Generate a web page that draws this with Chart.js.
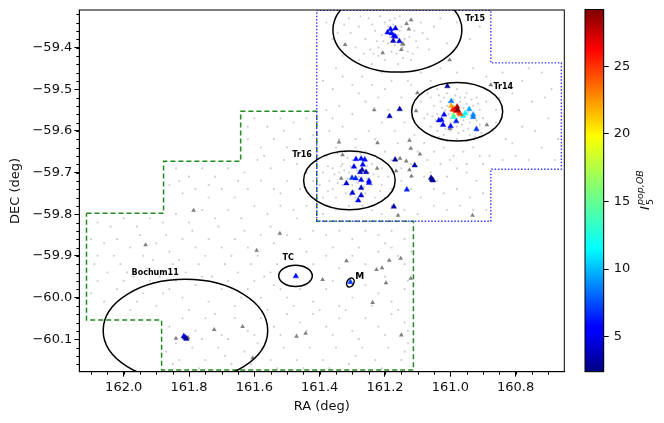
<!DOCTYPE html>
<html>
<head>
<meta charset="utf-8">
<title>OB stars</title>
<script src="https://cdn.jsdelivr.net/npm/chart.js@4/dist/chart.umd.min.js"></script>
<style>
  html, body { margin: 0; padding: 0; background: #fff; }
  #wrap { position: relative; width: 664px; height: 423px; overflow: hidden; }
  #mainChart { position: absolute; left: 0; top: 0; }
  #barChart { position: absolute; left: 560px; top: 0; }
</style>
</head>
<body>
<div id="wrap">
  <canvas id="mainChart" width="664" height="423"></canvas>
  <canvas id="barChart" width="104" height="423"></canvas>
</div>
<script>
//-------------------data--------------------
const xTicks = [162.0, 161.8, 161.6, 161.4, 161.2, 161.0, 160.8];
const yTicks = [-59.4, -59.5, -59.6, -59.7, -59.8, -59.9, -60.0, -60.1];
const barTicks = [5, 10, 15, 20, 25];

const raMin = 160.651, raMax = 162.136;
const decMin = -60.178, decMax = -59.31;
const barMin = 2.41, barMax = 29.2;

// survey footprints
const greenRa = [162.114, 161.878, 161.878, 161.642, 161.642, 161.409, 161.409, 161.113, 161.113, 161.884, 161.884, 162.114, 162.114];
const greenDec = [-59.798, -59.798, -59.673, -59.673, -59.553, -59.553, -59.817, -59.817, -60.174, -60.174, -60.054, -60.054, -59.798];
const blueRa = [161.409, 160.876, 160.876, 160.660, 160.660, 160.876, 160.876, 161.409, 161.409];
const blueDec = [-59.311, -59.311, -59.437, -59.437, -59.692, -59.692, -59.817, -59.817, -59.311];

// cluster ellipses
const clusterNames = ["Tr15", "Tr14", "Tr16", "TC", "M", "Bochum11"];
const clusterRa = [161.162, 160.979, 161.309, 161.474, 161.306, 161.811];
const clusterDec = [-59.358, -59.554, -59.719, -59.948, -59.964, -60.079];
const clusterRadRa = [0.1974, 0.1393, 0.1402, 0.0514, 0.0105, 0.2519];
const clusterRadDec = [0.101, 0.0702, 0.0704, 0.0257, 0.0115, 0.1226];
const clusterTilt = [0, 0, 0, 0, 0.5, 0];
const labelRa = [160.954, 160.868, 161.484, 161.514, 161.291, 161.976];
const labelDec = [-59.332, -59.495, -59.658, -59.904, -59.949, -59.940];

// gray triangles
const grayRa = [161.120, 161.134, 161.127, 161.322, 161.147, 161.144, 161.207, 161.150, 161.002, 160.876, 161.101, 161.233, 161.105, 160.888, 161.002, 161.341, 161.223, 161.125, 161.121, 161.093, 161.330, 161.154, 161.135, 161.224, 161.166, 161.125, 161.119, 161.334, 161.160, 160.932, 161.522, 161.933, 161.593, 161.723, 161.636, 161.840, 161.803, 161.605, 161.786, 161.318, 161.391, 161.187, 161.152, 161.226, 161.209, 161.197, 161.121, 161.238, 161.471, 161.443, 161.150];
const grayDec = [-59.334, -59.343, -59.356, -59.393, -59.392, -59.392, -59.413, -59.405, -59.430, -59.490, -59.509, -59.550, -59.552, -59.586, -59.595, -59.627, -59.629, -59.623, -59.642, -59.656, -59.658, -59.666, -59.673, -59.690, -59.696, -59.694, -59.709, -59.714, -59.803, -59.803, -59.846, -59.874, -59.887, -60.077, -60.070, -60.098, -60.096, -60.145, -59.791, -59.912, -59.957, -59.911, -59.906, -59.933, -59.929, -59.965, -59.954, -60.012, -60.093, -60.086, -60.090];

// coloured OB triangles
const obRa = [161.192, 161.183, 161.168, 161.180, 161.173, 161.168, 161.175, 161.156,
  161.009, 161.155, 161.186, 160.997, 161.019, 161.035, 161.027, 161.022, 160.982, 160.999, 160.920, 160.930, 160.930, 160.942, 160.954, 160.961, 160.990, 160.990, 160.997, 160.993, 160.969, 160.973, 160.987, 160.982, 160.979, 160.977,
  161.289, 161.273, 161.262, 161.268, 161.295, 161.270, 161.276, 161.258, 161.301, 161.290, 161.273, 161.249, 161.249, 161.318, 161.273, 161.300, 161.273, 161.282,
  161.169, 161.109, 161.059, 161.056, 161.053, 161.133, 161.173, 161.473, 161.306, 161.816, 161.812, 161.808];
const obDec = [-59.364, -59.356, -59.354, -59.366, -59.372, -59.374, -59.384, -59.385,
  -59.493, -59.548, -59.565, -59.529, -59.561, -59.575, -59.574, -59.586, -59.577, -59.589, -59.596, -59.561, -59.567, -59.548, -59.558, -59.564, -59.562, -59.567, -59.540, -59.549, -59.560, -59.557, -59.549, -59.552, -59.542, -59.550,
  -59.668, -59.667, -59.669, -59.681, -59.686, -59.694, -59.699, -59.699, -59.713, -59.714, -59.718, -59.720, -59.725, -59.726, -59.737, -59.749, -59.755, -59.767,
  -59.669, -59.683, -59.713, -59.717, -59.719, -59.741, -59.782, -59.949, -59.963, -60.093, -60.096, -60.099];
const obValue = [6, 6, 5, 6, 5.5, 5.5, 4, 4.5,
  3, 3.5, 3.5, 8.5, 6, 5.5, 5.5, 5.5, 6.5, 6, 7, 9, 8.5, 9.5, 11.5, 12, 17, 13, 22, 25, 24, 25, 26, 27, 28, 29,
  6, 6, 6, 6, 5, 3.5, 4, 3.5, 7, 6.5, 6, 5.5, 6, 4, 3.5, 4.5, 4.5, 5,
  3, 3.5, 3, 3, 3, 6.5, 3.5, 6, 7, 5, 3.5, 3];

const fieldStars = [
  // Tr15 area
  [161.31,-59.33],[161.28,-59.35],[161.25,-59.33],[161.23,-59.36],[161.26,-59.38],[161.29,-59.40],[161.22,-59.40],[161.20,-59.34],[161.19,-59.39],[161.21,-59.37],[161.17,-59.33],[161.15,-59.35],[161.16,-59.37],[161.14,-59.38],[161.18,-59.41],[161.13,-59.41],[161.11,-59.36],[161.09,-59.34],[161.07,-59.38],[161.05,-59.35],[161.03,-59.33],[161.10,-59.40],[161.12,-59.43],[161.16,-59.44],[161.20,-59.43],[161.24,-59.44],[161.28,-59.43],[161.33,-59.42],[161.36,-59.38],[161.38,-59.34],[161.35,-59.45],[161.17,-59.395],[161.185,-59.375],[161.155,-59.36],[161.19,-59.35],[161.145,-59.40],[161.22,-59.42],[160.98,-59.34],[160.94,-59.38],[160.91,-59.35],[160.99,-59.41],[161.01,-59.39],
  [161.24,-59.345],[161.215,-59.325],[161.195,-59.365],[161.175,-59.345],[161.135,-59.345],[161.125,-59.375],[161.105,-59.385],[161.085,-59.365],[161.065,-59.405],[161.245,-59.405],[161.265,-59.415],[161.305,-59.365],[161.325,-59.345],[161.345,-59.365],[161.205,-59.385],[161.165,-59.415],[161.145,-59.425],[161.115,-59.415],[161.185,-59.335],[161.275,-59.325],[161.155,-59.325],[161.225,-59.385],[161.235,-59.415],[161.175,-59.365],
  // between Tr15 and Tr14
  [161.39,-59.48],[161.36,-59.50],[161.33,-59.47],[161.30,-59.49],[161.27,-59.47],[161.24,-59.49],[161.21,-59.46],[161.18,-59.48],[161.15,-59.46],[161.12,-59.49],[161.09,-59.46],[161.06,-59.48],[161.03,-59.45],[160.98,-59.46],[160.93,-59.45],[160.89,-59.47],[160.84,-59.46],[160.78,-59.48],[160.72,-59.46],[160.69,-59.50],[160.81,-59.51],[160.75,-59.53],[160.86,-59.55],[160.70,-59.57],[160.78,-59.59],[160.83,-59.62],[160.72,-59.64],[160.80,-59.66],[160.68,-59.67],[160.88,-59.66],[161.38,-59.55],[161.34,-59.54],[161.30,-59.56],[161.26,-59.53],[161.22,-59.52],[161.19,-59.55],[161.15,-59.52],[161.12,-59.55],[161.09,-59.53],[161.08,-59.57],[161.37,-59.60],[161.33,-59.59],[161.29,-59.62],[161.25,-59.60],[161.21,-59.58],[161.17,-59.60],[161.14,-59.58],[161.11,-59.61],
  // Tr14 area
  [161.06,-59.52],[161.04,-59.50],[161.01,-59.51],[160.98,-59.50],[160.95,-59.51],[160.92,-59.52],[160.89,-59.53],[161.07,-59.56],[161.05,-59.54],[161.03,-59.53],[161.01,-59.54],[160.99,-59.525],[160.97,-59.53],[160.95,-59.535],[160.93,-59.54],[160.91,-59.55],[160.90,-59.57],[160.92,-59.575],[160.94,-59.58],[160.96,-59.575],[160.98,-59.57],[161.00,-59.58],[161.02,-59.57],[161.04,-59.56],[161.06,-59.59],[161.04,-59.60],[161.02,-59.61],[161.00,-59.60],[160.98,-59.59],[160.96,-59.60],[160.94,-59.61],[160.92,-59.60],[160.98,-59.62],[160.95,-59.625],[161.01,-59.625],[160.99,-59.54],[160.975,-59.565],[161.005,-59.56],[160.96,-59.545],[161.015,-59.55],[160.945,-59.555],[160.985,-59.58],[160.965,-59.585],[161.03,-59.585],[161.00,-59.57],[160.97,-59.52],[161.02,-59.52],[160.91,-59.585],[160.87,-59.60],[160.86,-59.58],
  [161.025,-59.545],[161.045,-59.575],[160.955,-59.565],[160.935,-59.565],[160.915,-59.535],[161.055,-59.565],[160.995,-59.595],[160.975,-59.605],[160.945,-59.595],[161.015,-59.595],[161.035,-59.615],[160.925,-59.615],[160.905,-59.605],[160.985,-59.515],[160.955,-59.52],[161.035,-59.515],[161.005,-59.53],[160.935,-59.525],
  // south of Tr14
  [161.08,-59.63],[161.05,-59.65],[161.02,-59.64],[160.99,-59.66],[160.96,-59.65],[160.93,-59.64],[160.90,-59.68],[160.92,-59.72],[160.95,-59.70],[160.98,-59.69],[161.01,-59.71],[161.03,-59.68],[161.07,-59.67],[161.08,-59.71],[161.05,-59.74],[161.02,-59.75],[160.98,-59.74],[160.94,-59.76],[160.90,-59.75],[160.89,-59.79],[160.93,-59.79],[160.97,-59.78],[161.01,-59.79],[161.05,-59.78],[161.09,-59.76],[161.12,-59.74],[161.15,-59.72],[161.18,-59.74],[161.10,-59.80],[161.14,-59.79],[161.18,-59.78],[161.21,-59.80],
  // Tr16 area
  [161.38,-59.66],[161.35,-59.64],[161.32,-59.65],[161.29,-59.64],[161.26,-59.65],[161.23,-59.66],[161.20,-59.65],[161.18,-59.67],[161.21,-59.69],[161.24,-59.68],[161.27,-59.68],[161.30,-59.67],[161.33,-59.68],[161.36,-59.69],[161.39,-59.70],[161.40,-59.73],[161.37,-59.72],[161.34,-59.70],[161.31,-59.70],[161.28,-59.71],[161.25,-59.70],[161.22,-59.71],[161.19,-59.71],[161.21,-59.73],[161.24,-59.73],[161.27,-59.72],[161.30,-59.73],[161.33,-59.73],[161.36,-59.74],[161.39,-59.76],[161.35,-59.76],[161.32,-59.75],[161.29,-59.76],[161.26,-59.75],[161.23,-59.76],[161.20,-59.76],[161.31,-59.78],[161.27,-59.78],[161.24,-59.79],[161.35,-59.79],[161.39,-59.80],[161.285,-59.695],[161.315,-59.715],[161.265,-59.735],[161.295,-59.745],[161.335,-59.685],
  [161.355,-59.705],[161.375,-59.745],[161.345,-59.725],[161.325,-59.695],[161.305,-59.755],[161.255,-59.715],[161.235,-59.705],[161.215,-59.745],[161.285,-59.725],[161.305,-59.685],[161.255,-59.685],[161.345,-59.655],[161.375,-59.685],[161.225,-59.665],[161.275,-59.655],[161.315,-59.665],
  // west part of green field
  [161.60,-59.57],[161.56,-59.59],[161.52,-59.57],[161.48,-59.58],[161.44,-59.57],[161.62,-59.62],[161.58,-59.64],[161.54,-59.62],[161.50,-59.64],[161.46,-59.62],[161.42,-59.61],[161.43,-59.66],[161.47,-59.68],[161.51,-59.67],[161.55,-59.69],[161.59,-59.67],[161.63,-59.70],[161.68,-59.69],[161.72,-59.71],[161.76,-59.69],[161.80,-59.71],[161.84,-59.69],[161.86,-59.73],[161.82,-59.75],[161.78,-59.74],[161.74,-59.76],[161.70,-59.74],[161.66,-59.76],[161.62,-59.74],[161.58,-59.72],[161.54,-59.74],[161.50,-59.72],[161.46,-59.74],[161.42,-59.72],[161.44,-59.78],[161.48,-59.79],[161.52,-59.78],[161.56,-59.80],[161.60,-59.78],[161.64,-59.81],[161.68,-59.79],[161.72,-59.81],[161.76,-59.79],[161.80,-59.82],[161.84,-59.80],[161.88,-59.82],[161.92,-59.81],[161.96,-59.83],[162.00,-59.81],[162.04,-59.83],[162.08,-59.82],[162.10,-59.86],[162.06,-59.87],[162.02,-59.86],[161.98,-59.88],[161.94,-59.90],[161.90,-59.87],[161.86,-59.89],[161.82,-59.86],[161.78,-59.88],[161.74,-59.86],[161.70,-59.88],[161.66,-59.86],[161.62,-59.88],[161.58,-59.85],[161.54,-59.87],[161.50,-59.85],[161.46,-59.86],[161.42,-59.84],[161.38,-59.85],[161.34,-59.84],[161.30,-59.86],[161.26,-59.84],[161.22,-59.85],[161.18,-59.84],[161.14,-59.86],
  // lower rows
  [162.09,-59.92],[162.05,-59.94],[162.01,-59.92],[161.97,-59.95],[161.93,-59.93],[161.89,-59.95],[161.85,-59.92],[161.81,-59.94],[161.77,-59.92],[161.73,-59.95],[161.69,-59.92],[161.65,-59.94],[161.61,-59.92],[161.57,-59.95],[161.53,-59.92],[161.42,-59.92],[161.38,-59.90],[161.34,-59.93],[161.30,-59.90],[161.26,-59.92],[161.22,-59.89],[161.18,-59.88],[161.14,-59.92],[161.12,-59.89],
  [162.10,-59.99],[162.06,-60.01],[162.02,-59.98],[161.98,-60.03],[161.94,-59.99],[161.90,-60.02],[161.86,-59.98],[161.82,-60.00],[161.78,-59.97],[161.74,-60.01],[161.70,-59.98],[161.66,-60.02],[161.62,-59.98],[161.58,-60.00],[161.54,-59.97],[161.50,-60.00],[161.46,-59.98],[161.42,-60.01],[161.38,-59.98],[161.34,-60.02],[161.30,-60.00],[161.26,-59.97],[161.22,-59.99],[161.18,-60.01],[161.14,-59.98],
  [161.86,-60.07],[161.82,-60.05],[161.78,-60.08],[161.75,-60.05],[161.70,-60.09],[161.66,-60.05],[161.62,-60.08],[161.58,-60.05],[161.54,-60.07],[161.50,-60.04],[161.46,-60.06],[161.42,-60.04],[161.38,-60.07],[161.34,-60.05],[161.30,-60.08],[161.26,-60.05],[161.22,-60.07],[161.18,-60.04],[161.14,-60.06],
  [161.87,-60.13],[161.83,-60.15],[161.79,-60.12],[161.75,-60.15],[161.71,-60.12],[161.67,-60.16],[161.63,-60.13],[161.59,-60.11],[161.55,-60.15],[161.51,-60.12],[161.47,-60.15],[161.43,-60.12],[161.39,-60.15],[161.35,-60.12],[161.31,-60.16],[161.27,-60.12],[161.23,-60.15],[161.19,-60.12],[161.15,-60.15],[161.13,-60.11],
  // second pass over the wide field
  [161.62,-59.59],[161.51,-59.60],[161.41,-59.64],[161.57,-59.66],[161.65,-59.72],[161.74,-59.73],[161.83,-59.72],[161.52,-59.75],[161.44,-59.70],[161.47,-59.81],[161.55,-59.83],[161.63,-59.84],[161.71,-59.83],[161.79,-59.84],[161.87,-59.85],[161.95,-59.85],[162.03,-59.90],[162.08,-59.90],[161.99,-59.94],[161.91,-59.91],[161.83,-59.91],[161.75,-59.90],[161.67,-59.90],[161.59,-59.90],[161.55,-59.94],[161.44,-59.89],[161.36,-59.88],[161.28,-59.88],[161.20,-59.87],[161.16,-59.90],[161.13,-59.96],[161.20,-59.95],[161.28,-59.95],[161.36,-59.96],[161.43,-59.96],[161.52,-59.98],[161.60,-59.96],[161.68,-59.96],[161.76,-59.95],[161.84,-59.96],[161.92,-59.96],[162.00,-59.96],[162.08,-59.96],[162.04,-60.03],[161.96,-60.01],[161.88,-59.99],[161.80,-60.03],[161.72,-60.04],[161.64,-60.00],[161.56,-60.03],[161.48,-60.02],[161.40,-60.03],[161.32,-60.03],[161.24,-60.02],[161.16,-60.03],[161.13,-60.08],[161.20,-60.09],[161.28,-60.10],[161.36,-60.09],[161.44,-60.08],[161.52,-60.09],[161.60,-60.09],[161.68,-60.10],[161.76,-60.10],[161.84,-60.11],[161.85,-60.16],[161.77,-60.17],[161.69,-60.14],[161.61,-60.16],[161.53,-60.17],[161.45,-60.17],[161.37,-60.17],[161.29,-60.14],[161.21,-60.17],[161.14,-60.13],
  [160.76,-59.45],[160.71,-59.52],[160.79,-59.55],[160.85,-59.52],[160.74,-59.60],[160.67,-59.62],[160.81,-59.63],[160.84,-59.67],[160.76,-59.67],[161.36,-59.57],[161.28,-59.51],[161.20,-59.50],[161.13,-59.48],[161.07,-59.51],[161.34,-59.62],[161.23,-59.62],[161.16,-59.63],[161.10,-59.65],[161.12,-59.68],[161.15,-59.69],[161.06,-59.70],[161.04,-59.72],[161.00,-59.67],[160.95,-59.68],[160.91,-59.66]
];

// jet colormap stops
const jetStops = [0, 0.11, 0.125, 0.34, 0.5, 0.65, 0.89, 1];
const jetColors = [[0, 0, 127], [0, 0, 255], [0, 0, 255], [0, 255, 255], [124, 255, 121], [255, 255, 0], [255, 0, 0], [127, 0, 0]];

const fontName = "'DejaVu Sans', sans-serif";
//-------------------data--------------------

function jet(t) {
  t = Math.max(0, Math.min(1, t));
  for (let i = 1; i < jetStops.length; i++) {
    if (t <= jetStops[i]) {
      const f = (t - jetStops[i - 1]) / (jetStops[i] - jetStops[i - 1] || 1);
      const c = jetColors[i - 1].map((v, k) => Math.round(v + (jetColors[i][k] - v) * f));
      return `rgb(${c[0]},${c[1]},${c[2]})`;
    }
  }
  return "rgb(127,0,0)";
}

function valueColor(v) {
  return jet((v - barMin) / (barMax - barMin));
}

function toPoints(xs, ys) {
  return xs.map((x, i) => ({ x: x, y: ys[i] }));
}

// tick label with a real minus sign
function tickText(v) {
  return v.toFixed(1).replace("-", "\u2212");
}

//-------------------plugin for box, ellipses, labels, minor ticks--------------------
const skyPlugin = {
  id: "skyPlugin",
  afterDatasetsDraw(chart) {
    const ctx = chart.ctx;
    const a = chart.chartArea;
    const sx = chart.scales.x;
    const sy = chart.scales.y;

    ctx.save();
    ctx.beginPath();
    ctx.rect(a.left, a.top, a.width, a.height);
    ctx.clip();
    ctx.strokeStyle = "#000";
    ctx.lineWidth = 1.5;
    clusterNames.forEach((name, i) => {
      const px = sx.getPixelForValue(clusterRa[i]);
      const py = sy.getPixelForValue(clusterDec[i]);
      const rx = Math.abs(sx.getPixelForValue(clusterRa[i] + clusterRadRa[i]) - px);
      const ry = Math.abs(sy.getPixelForValue(clusterDec[i] + clusterRadDec[i]) - py);
      ctx.beginPath();
      ctx.ellipse(px, py, rx, ry, clusterTilt[i], 0, Math.PI * 2);
      ctx.stroke();
    });
    ctx.restore();

    ctx.save();
    ctx.fillStyle = "#000";
    ctx.textBaseline = "middle";
    clusterNames.forEach((name, i) => {
      ctx.font = (name === "M" ? "bold 9px " : "bold 8px ") + fontName;
      ctx.fillText(name, sx.getPixelForValue(labelRa[i]), sy.getPixelForValue(labelDec[i]));
    });
    ctx.restore();

    // frame and minor ticks
    ctx.save();
    ctx.strokeStyle = "#000";
    ctx.lineWidth = 1;
    ctx.strokeRect(a.left, a.top, a.width, a.height);
    ctx.beginPath();
    for (let k = 0; k < 30; k++) {
      const v = 160.65 + k * 0.05;
      if (v < raMin || v > raMax) continue;
      const px = Math.round(sx.getPixelForValue(v)) + 0.5;
      ctx.moveTo(px, a.bottom);
      ctx.lineTo(px, a.bottom + 3);
    }
    for (let k = 0; k < 44; k++) {
      const v = -59.32 - k * 0.02;
      if (v < decMin || v > decMax) continue;
      const py = Math.round(sy.getPixelForValue(v)) + 0.5;
      ctx.moveTo(a.left, py);
      ctx.lineTo(a.left - 3, py);
    }
    ctx.stroke();
    ctx.restore();
  },
};
//-------------------plugin for box, ellipses, labels, minor ticks--------------------

//-------------------main chart--------------------
new Chart(document.getElementById("mainChart"), {
  type: "scatter",
  plugins: [skyPlugin],
  data: {
    datasets: [
      {
        data: fieldStars.map((p) => ({ x: p[0], y: p[1] })),
        pointStyle: "circle",
        pointRadius: 1.1,
        pointBackgroundColor: "#cfcfcf",
        pointBorderWidth: 0,
        order: 5,
      },
      {
        data: toPoints(greenRa, greenDec),
        showLine: true,
        borderColor: "#1e8c1e",
        borderWidth: 1.5,
        borderDash: [5, 3],
        pointRadius: 0,
        order: 4,
      },
      {
        data: toPoints(blueRa, blueDec),
        showLine: true,
        borderColor: "#3a3aff",
        borderWidth: 1.4,
        borderDash: [1.5, 1.8],
        pointRadius: 0,
        order: 3,
      },
      {
        data: toPoints(grayRa, grayDec),
        pointStyle: "triangle",
        pointRadius: 2.7,
        pointBackgroundColor: "#808080",
        pointBorderWidth: 0,
        order: 2,
      },
      {
        data: toPoints(obRa, obDec),
        pointStyle: "triangle",
        pointRadius: 3.2,
        pointBackgroundColor: obValue.map(valueColor),
        pointBorderColor: obValue.map(valueColor),
        pointBorderWidth: 0.4,
        order: 1,
      },
    ],
  },
  options: {
    responsive: false,
    animation: false,
    events: [],
    layout: { padding: { left: 0, top: 10, right: 99.7, bottom: 0 } },
    plugins: { legend: { display: false }, tooltip: { enabled: false } },
    scales: {
      x: {
        type: "linear",
        reverse: true,
        min: raMin,
        max: raMax,
        afterBuildTicks: (s) => { s.ticks = xTicks.map((v) => ({ value: v })); },
        afterFit: (s) => { s.height = 51.3; },
        grid: { drawOnChartArea: false, tickColor: "#000", tickLength: 5 },
        border: { color: "#000" },
        ticks: {
          color: "#111",
          padding: 3,
          maxRotation: 0,
          autoSkip: false,
          font: { family: fontName, size: 13 },
          callback: (v) => tickText(v),
        },
        title: {
          display: true,
          text: "RA (deg)",
          color: "#111",
          padding: { top: 0, bottom: 9 },
          font: { family: fontName, size: 13 },
        },
      },
      y: {
        type: "linear",
        min: decMin,
        max: decMax,
        afterBuildTicks: (s) => { s.ticks = yTicks.map((v) => ({ value: v })); },
        afterFit: (s) => { s.width = 79.3; },
        grid: { drawOnChartArea: false, tickColor: "#000", tickLength: 5 },
        border: { color: "#000" },
        ticks: {
          color: "#111",
          padding: 2,
          autoSkip: false,
          font: { family: fontName, size: 13 },
          callback: (v) => tickText(v),
        },
        title: {
          display: true,
          text: "DEC (deg)",
          color: "#111",
          padding: { top: 8, bottom: 0 },
          font: { family: fontName, size: 13 },
        },
      },
    },
  },
});
//-------------------main chart--------------------

//-------------------colorbar--------------------
const barLabelPlugin = {
  id: "barLabelPlugin",
  afterDraw(chart) {
    const ctx = chart.ctx;
    const a = chart.chartArea;
    ctx.save();
    ctx.strokeStyle = "#000";
    ctx.lineWidth = 1;
    ctx.strokeRect(a.left, a.top, a.width, a.height);
    // rotated I_5^{pop,OB}
    ctx.translate(85, 210);
    ctx.rotate(-Math.PI / 2);
    ctx.fillStyle = "#111";
    ctx.textBaseline = "alphabetic";
    ctx.font = "italic 13px " + fontName;
    ctx.fillText("I", 0, 4);
    ctx.font = "9.5px " + fontName;
    ctx.fillText("5", 5, 8);
    ctx.font = "italic 9.5px " + fontName;
    ctx.fillText("pop,OB", 5, -2);
    ctx.restore();
  },
};

new Chart(document.getElementById("barChart"), {
  type: "bar",
  plugins: [barLabelPlugin],
  data: {
    labels: ["I"],
    datasets: [
      {
        data: [[barMin, barMax]],
        barPercentage: 1,
        categoryPercentage: 1,
        borderWidth: 0,
        backgroundColor: (c) => {
          const a = c.chart.chartArea;
          if (!a) return "#00f";
          const g = c.chart.ctx.createLinearGradient(0, a.bottom, 0, a.top);
          jetStops.forEach((s) => g.addColorStop(s, jet(s)));
          return g;
        },
      },
    ],
  },
  options: {
    responsive: false,
    animation: false,
    events: [],
    layout: { padding: { left: 25, top: 9.5, right: 0, bottom: 51.3 } },
    plugins: { legend: { display: false }, tooltip: { enabled: false } },
    scales: {
      x: { display: false },
      y: {
        position: "right",
        min: barMin,
        max: barMax,
        afterBuildTicks: (s) => { s.ticks = barTicks.map((v) => ({ value: v })); },
        afterFit: (s) => { s.width = 60.3; s.paddingTop = 0; s.paddingBottom = 0; },
        grid: { drawOnChartArea: false, tickColor: "#000", tickLength: 5 },
        border: { color: "#000" },
        ticks: {
          color: "#111",
          padding: 5,
          font: { family: fontName, size: 13 },
        },
      },
    },
  },
});
//-------------------colorbar--------------------
</script>
</body>
</html>
